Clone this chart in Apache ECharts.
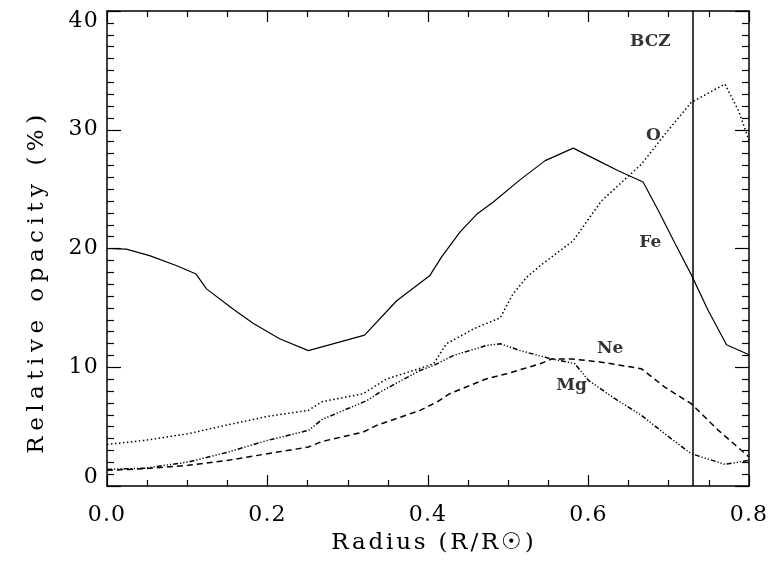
<!DOCTYPE html>
<html>
<head>
<meta charset="utf-8">
<script src="https://cdn.jsdelivr.net/npm/echarts/dist/echarts.min.js"></script>
<style>
html,body{margin:0;padding:0;background:#fff;}
#chart{width:778px;height:561px;}
</style>
</head>
<body>
<div id="chart"></div>
<script>
// ---- data (radius R/Rsun, relative opacity %) ----
const feData = [[0,20.0],[0.024,19.95],[0.053,19.4],[0.087,18.55],[0.111,17.85],[0.124,16.6],[0.157,14.9],[0.182,13.7],[0.215,12.4],[0.251,11.4],[0.321,12.7],[0.361,15.6],[0.402,17.7],[0.417,19.3],[0.44,21.4],[0.461,22.9],[0.481,23.9],[0.515,25.8],[0.546,27.4],[0.581,28.45],[0.612,27.4],[0.637,26.55],[0.668,25.6],[0.687,23.2],[0.708,20.4],[0.728,17.8],[0.749,14.8],[0.772,11.9],[0.8,11.05]];
const oData = [[0,3.5],[0.047,3.84],[0.101,4.4],[0.151,5.16],[0.2,5.86],[0.251,6.37],[0.268,7.1],[0.319,7.77],[0.348,9.0],[0.382,9.73],[0.407,10.3],[0.423,11.98],[0.457,13.24],[0.49,14.16],[0.506,16.18],[0.523,17.58],[0.54,18.56],[0.581,20.66],[0.616,24.0],[0.666,27.1],[0.695,29.6],[0.728,32.3],[0.77,33.84],[0.787,31.6],[0.8,29.1]];
const neData = [[0,1.32],[0.047,1.46],[0.101,1.74],[0.151,2.16],[0.2,2.72],[0.251,3.28],[0.268,3.75],[0.319,4.54],[0.336,5.1],[0.39,6.37],[0.411,7.07],[0.427,7.77],[0.473,9.03],[0.498,9.45],[0.54,10.3],[0.554,10.7],[0.579,10.7],[0.616,10.43],[0.666,9.87],[0.695,8.33],[0.728,6.93],[0.762,4.68],[0.8,2.44]];
const mgData = [[0,1.4],[0.047,1.5],[0.101,2.02],[0.151,2.86],[0.2,3.84],[0.251,4.68],[0.268,5.6],[0.324,7.2],[0.34,7.9],[0.39,9.73],[0.407,10.15],[0.432,11.0],[0.473,11.83],[0.49,11.98],[0.515,11.4],[0.554,10.7],[0.583,10.3],[0.6,8.89],[0.633,7.35],[0.666,5.95],[0.695,4.4],[0.728,2.72],[0.77,1.82],[0.8,2.16]];
const bczX = 0.729;
const annotations = [[0.677,37.4,'BCZ'],[0.681,29.5,'O'],[0.677,20.5,'Fe'],[0.627,11.55,'Ne'],[0.579,8.47,'Mg']];
const xTicks = [0, 0.8, 0.2];
const yTicks = [0, 40, 10];

// wide letter spacing (like the original plotting font), set explicitly on every text draw
(function(){
  const proto = CanvasRenderingContext2D.prototype;
  const orig = proto.fillText;
  function spacing(s){
    if (s.indexOf('Radius') === 0) return '2.8px';
    if (s.indexOf('Relative') === 0) return '5.5px';
    if (/^[0-9.]+$/.test(s)) return '1.2px';
    return '0px';
  }
  proto.fillText = function(text, x, y, maxW){
    if ('letterSpacing' in this){
      const ls = spacing(String(text));
      if (this.letterSpacing !== ls){
        this.letterSpacing = ls;
        const f = this.font; this.font = f;
      }
    }
    return maxW === undefined ? orig.call(this, text, x, y) : orig.call(this, text, x, y, maxW);
  };
})();

const FONT = 'DejaVu Serif';
const chart = echarts.init(document.getElementById('chart'), null, {renderer:'canvas'});

function xAxisCfg(pos, showLabel){
  return {
    type:'value', position:pos, min:xTicks[0], max:xTicks[1], interval:xTicks[2],
    axisLine:{show:true, onZero:false, lineStyle:{color:'#000', width:1.5}},
    axisTick:{show:true, inside:true, length:11, lineStyle:{color:'#000', width:1.2}},
    minorTick:{show:true, splitNumber:4, length:6, lineStyle:{color:'#000', width:1.2}},
    splitLine:{show:false}, minorSplitLine:{show:false},
    axisLabel:{show:showLabel, color:'#000', fontFamily:FONT, fontSize:22, margin:18,
      formatter:v=>v.toFixed(1)},
    name: showLabel ? 'Radius (R/R\u2609)' : '',
    nameLocation:'middle', nameGap:46,
    nameTextStyle:{color:'#000', fontFamily:FONT, fontSize:23, padding:[0,0,0,12]}
  };
}
function yAxisCfg(pos, showLabel){
  return {
    type:'value', position:pos, min:yTicks[0], max:yTicks[1], interval:yTicks[2],
    axisLine:{show:true, onZero:false, lineStyle:{color:'#000', width:1.5}},
    axisTick:{show:true, inside:true, length:14, lineStyle:{color:'#000', width:1.2}},
    minorTick:{show:true, splitNumber:10, length:7, lineStyle:{color:'#000', width:1.2}},
    splitLine:{show:false}, minorSplitLine:{show:false},
    axisLabel:{show:showLabel, color:'#000', fontFamily:FONT, fontSize:22, margin:8,
      formatter:v=> v===yTicks[0] ? '{lo|'+v+'}' : (v===yTicks[1] ? '{hi|'+v+'}' : String(v)),
      rich:{lo:{fontFamily:FONT, fontSize:22, color:'#000', padding:[0,0,18,0]},
            hi:{fontFamily:FONT, fontSize:22, color:'#000', padding:[20,0,0,0]}}},
    name: showLabel ? 'Relative opacity (%)' : '',
    nameLocation:'middle', nameGap:58,
    nameTextStyle:{color:'#000', fontFamily:FONT, fontSize:23, padding:[0,66,0,0]}
  };
}

const lineBase = {type:'line', showSymbol:false, symbol:'none', smooth:false, silent:true, xAxisIndex:0, yAxisIndex:0};

chart.setOption({
  animation:false,
  backgroundColor:'#fff',
  textStyle:{fontFamily:FONT},
  grid:{left:107, right:29, top:11, bottom:75, containLabel:false},
  xAxis:[xAxisCfg('bottom', true), xAxisCfg('top', false)],
  yAxis:[yAxisCfg('left', true), yAxisCfg('right', false)],
  series:[
    Object.assign({}, lineBase, {name:'Fe', data:feData, lineStyle:{color:'#000', width:1.2, type:'solid'},
      markLine:{silent:true, symbol:['none','none'], label:{show:false},
        lineStyle:{color:'#000', width:1.5, type:'solid'}, data:[{xAxis:bczX}]}}),
    Object.assign({}, lineBase, {name:'O', data:oData, lineStyle:{color:'#000', width:1.5, type:[1.5,2.5]}}),
    Object.assign({}, lineBase, {name:'Ne', data:neData, lineStyle:{color:'#000', width:1.5, type:[6,4]}}),
    Object.assign({}, lineBase, {name:'Mg', data:mgData, lineStyle:{color:'#000', width:1.5, type:[5,2,1.2,2,1.2,2,1.2,2]}}),
    {type:'scatter', name:'labels', silent:true, symbolSize:0, data:annotations,
      label:{show:true, position:'inside', color:'#000', fontFamily:FONT, fontWeight:'bold', fontSize:17,
        formatter:p=>p.data[2]}}
  ]
});
</script>
</body>
</html>
